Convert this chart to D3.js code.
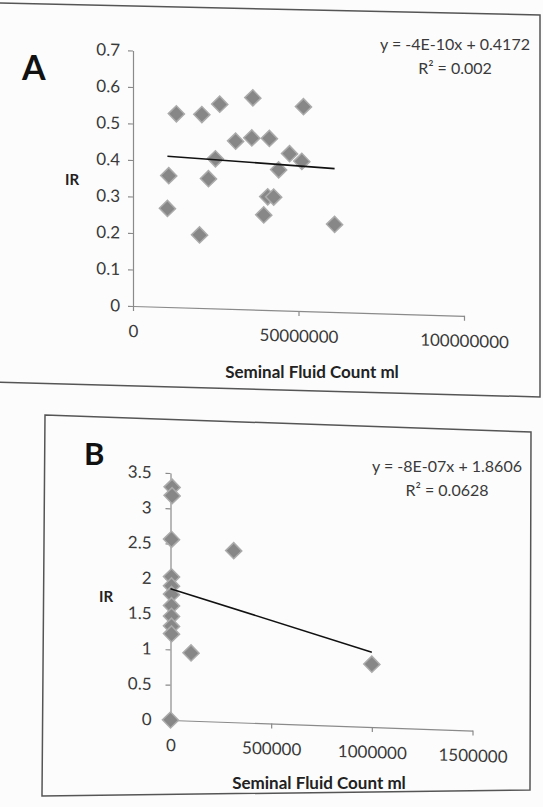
<!DOCTYPE html>
<html>
<head>
<meta charset="utf-8">
<script src="https://cdn.jsdelivr.net/npm/d3@7"></script>
<style>
  body { margin: 0; background: #fcfcfc; }
  svg { display: block; }
  text { font-family: Lato, "Liberation Sans", sans-serif; fill: #3a3a3a; }
  .domain, .tick line { stroke: #8a8a8a; stroke-width: 1.2; }
</style>
</head>
<body>
<svg id="board"></svg>
<script>
// panel A data
var aCount = [13.1e6, 10.8e6, 10.4e6, 20.8e6, 20.1e6, 22.8e6, 24.9e6, 26.2e6, 31.0e6, 35.9e6,
              36.2e6, 41.2e6, 39.5e6, 40.7e6, 42.5e6, 44.0e6, 47.3e6, 51.5e6, 51.0e6, 60.9e6];
var aIR = [0.53, 0.36, 0.27, 0.53, 0.20, 0.355, 0.41, 0.56, 0.46, 0.47,
           0.58, 0.47, 0.26, 0.31, 0.31, 0.385, 0.43, 0.56, 0.41, 0.24];
var aSlope = -4e-10, aIntercept = 0.4172;
var aEquation = ["y = -4E-10x + 0.4172", "R² = 0.002"];
var aXTicks = [0, 50000000, 100000000];
var aYTicks = [0, 0.1, 0.2, 0.3, 0.4, 0.5, 0.6, 0.7];

// panel B data
var bCount = [0, 8000, 8000, 5000, 5000, 5000, 5000, 5000, 5000, 5000, 5000, 102000, 314000, 1000000];
var bIR = [0, 3.3, 3.18, 2.56, 2.03, 1.9, 1.78, 1.62, 1.47, 1.33, 1.22, 0.96, 2.43, 0.89];
var bSlope = -8e-7, bIntercept = 1.8606;
var bEquation = ["y = -8E-07x + 1.8606", "R² = 0.0628"];
var bXTicks = [0, 500000, 1000000, 1500000];
var bYTicks = [0, 0.5, 1, 1.5, 2, 2.5, 3, 3.5];

var xTitle = "Seminal Fluid Count ml";
var yTitle = "IR";

var bd = d3.select("#board")
           .attr("width", 543)
           .attr("height", 807);

// scanned frames round each panel
bd.append("polygon")
	.attr("points", "-5,3 540,15 540,397 -5,382")
	.attr("fill", "none").attr("stroke", "#555").attr("stroke-width", 1.5);
bd.append("polygon")
	.attr("points", "45,415 531,432 530,790 42,796")
	.attr("fill", "none").attr("stroke", "#555").attr("stroke-width", 1.5);

function panel(p) {
	var x = d3.scaleLinear().domain(p.xDomain).range([p.ox, p.ox + p.w]);
	var y = d3.scaleLinear().domain(p.yDomain).range([p.oy, p.oy - p.h]);

	// the scan is tilted a little, so the plot is sheared round its origin
	var g = bd.append("g")
		.attr("transform", "translate(" + p.ox + "," + p.oy + ") skewY(" + p.skew + ") translate(" + (-p.ox) + "," + (-p.oy) + ")");

	g.append("g")
		.attr("transform", "translate(0," + p.oy + ")")
		.call(d3.axisBottom(x).tickValues(p.xTicks).tickFormat(String).tickSizeInner(5).tickSizeOuter(0).tickPadding(p.xPad))
		.call(function(s) { s.selectAll("text").attr("font-size", 17).attr("font-family", "Lato"); });

	g.append("g")
		.attr("transform", "translate(" + p.ox + ",0)")
		.call(d3.axisLeft(y).tickValues(p.yTicks).tickFormat(String).tickSizeInner(5).tickSizeOuter(0).tickPadding(p.yPad))
		.call(function(s) { s.selectAll("text").attr("font-size", 17).attr("font-family", "Lato"); });

	g.selectAll("path.pt")
		.data(p.xs)
		.enter().append("path")
		.attr("class", "pt")
		.attr("d", d3.symbol(d3.symbolSquare, 130))
		.attr("transform", function(d, i) { return "translate(" + x(d) + "," + y(p.ys[i]) + ") rotate(45)"; })
		.attr("fill", "#878787")
		.attr("stroke", "#ababab")
		.attr("stroke-width", 1.5);

	var lo = d3.min(p.xs), hi = d3.max(p.xs);
	g.append("line")
		.attr("x1", x(lo)).attr("y1", y(p.slope * lo + p.intercept))
		.attr("x2", x(hi)).attr("y2", y(p.slope * hi + p.intercept))
		.attr("stroke", "#111").attr("stroke-width", 1.6);

	bd.append("text")
		.attr("x", p.letterX).attr("y", p.letterY)
		.attr("font-family", "Liberation Sans").attr("font-weight", "bold")
		.attr("font-size", p.letterSize).style("fill", "#111")
		.text(p.letter);

	bd.append("text")
		.attr("x", p.eqX).attr("y", p.eqY)
		.attr("text-anchor", "middle").attr("font-size", 16)
		.text(p.eq[0]);
	bd.append("text")
		.attr("x", p.eqX).attr("y", p.eqY + 24)
		.attr("text-anchor", "middle").attr("font-size", 16)
		.text(p.eq[1]);

	bd.append("text")
		.attr("x", p.irX).attr("y", p.irY)
		.attr("text-anchor", "middle").attr("font-size", 15).attr("font-weight", "bold")
		.style("fill", "#222")
		.text(yTitle);

	bd.append("text")
		.attr("x", p.titleX).attr("y", p.titleY)
		.attr("text-anchor", "middle").attr("font-size", 17).attr("font-weight", "bold")
		.style("fill", "#222")
		.text(xTitle);
}

panel({
	xs: aCount, ys: aIR, slope: aSlope, intercept: aIntercept, eq: aEquation,
	xDomain: [0, 100000000], yDomain: [0, 0.7], xTicks: aXTicks, yTicks: aYTicks,
	ox: 133, oy: 306, w: 331, h: 255.5, skew: 1.7, xPad: 14, yPad: 8,
	letter: "A", letterX: 22, letterY: 80, letterSize: 34,
	eqX: 455, eqY: 50, irX: 72, irY: 185, titleX: 312, titleY: 378
});

panel({
	xs: bCount, ys: bIR, slope: bSlope, intercept: bIntercept, eq: bEquation,
	xDomain: [0, 1500000], yDomain: [0, 3.5], xTicks: bXTicks, yTicks: bYTicks,
	ox: 170.5, oy: 720, w: 302, h: 247, skew: 2.0, xPad: 14, yPad: 14,
	letter: "B", letterX: 84, letterY: 465, letterSize: 31,
	eqX: 447, eqY: 472, irX: 106, irY: 602, titleX: 319, titleY: 789
});
</script>
</body>
</html>
